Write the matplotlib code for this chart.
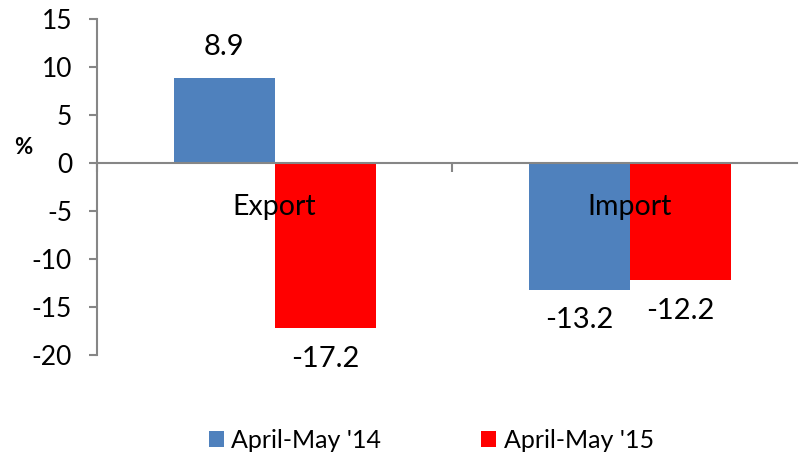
import numpy as np
from matplotlib import pyplot as plt

categories = ["Export", "Import"]
series_names = ["April-May '14", "April-May '15"]
values_14 = [8.9, -13.2]
values_15 = [-17.2, -12.2]
y_ticks = [15, 10, 5, 0, -5, -10, -15, -20]

blue = "#4F81BD"
red = "#FF0000"
grey = "#868686"

plt.rcParams['font.family'] = ['Lato', 'DejaVu Sans']

fig = plt.figure(figsize=(8, 4.63), dpi=100)
W, H = 800, 463
# axes box in pixels: left 97, right 797, top 19, bottom 355
ax = fig.add_axes([97 / W, 1 - 355 / H, 700 / W, (355 - 19) / H])

x = np.arange(len(categories))
width = 101 / 355
b1 = ax.bar(x - width / 2, values_14, width, color=blue, label=series_names[0])
b2 = ax.bar(x + width / 2, values_15, width, color=red, label=series_names[1])

ax.set_ylim(-20, 15)
ax.set_xlim(-0.5, 700 / 355 - 0.5)
ax.set_yticks(y_ticks)
ax.set_yticklabels([str(v) for v in y_ticks], fontsize=19)

for s in ["top", "right"]:
    ax.spines[s].set_visible(False)
ax.spines["bottom"].set_position(("data", 0))
for s in ["left", "bottom"]:
    ax.spines[s].set_color(grey)
    ax.spines[s].set_linewidth(1.5)

ax.set_xticks([-0.5, 0.5])
ax.set_xticklabels([])
ax.tick_params(axis="x", direction="out", length=6.5, width=1.5, color=grey)
ax.tick_params(axis="y", direction="out", length=6, width=1.5, color=grey, pad=12)

# category labels sit just under the zero line
for xi, name in zip(x, categories):
    ax.text(xi, -4.6, name, ha="center", va="center", fontsize=20.5)

# value labels
for bars in (b1, b2):
    for rect, v in zip(bars, bars.datavalues):
        cx = rect.get_x() + rect.get_width() / 2
        off = 3.2 if v >= 0 else -3.2
        ax.text(cx, v + off, f"{v:.1f}", ha="center", va="center", fontsize=21)

fig.text(23 / W, 1 - 148 / H, "%", ha="center", va="center", fontsize=16, fontweight="bold")

leg = fig.legend(handles=[b1, b2], loc="center", bbox_to_anchor=(431.5 / W, 1 - 440 / H),
                 ncol=2, frameon=False, fontsize=18, handlelength=0.6, handleheight=0.6,
                 handletextpad=0.3, columnspacing=4.0)

fig.savefig("out.png", dpi=100)
